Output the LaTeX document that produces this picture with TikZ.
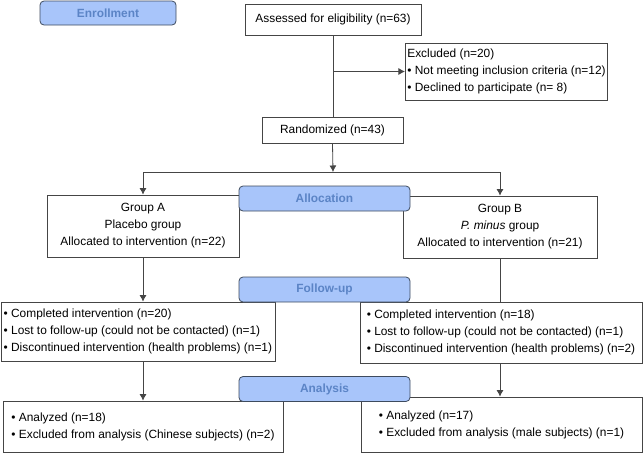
\documentclass[tikz,border=0pt]{standalone}
\usepackage{fontspec}
\setmainfont{Liberation Sans}
\usepackage{tikz}
\usetikzlibrary{arrows.meta}
\tikzset{>={Latex[length=6.5pt,width=7pt]}}
\definecolor{bannerfill}{HTML}{A8C5FA}
\definecolor{bannertext}{HTML}{5B84C6}
\definecolor{bannerline}{HTML}{3E4B5E}
\definecolor{flowline}{HTML}{454545}
\tikzset{
  box/.style={draw=flowline, line width=0.8pt, inner sep=2pt, font=\fontsize{11.9}{17}\selectfont},
  banner/.style={draw=bannerline, fill=bannerfill, rounded corners=4pt, line width=0.8pt, text=bannertext,
    font=\fontsize{11.9}{14}\selectfont\bfseries, minimum width=171pt, minimum height=25pt},
  flow/.style={flowline, line width=0.8pt}
}

\begin{document}
\begin{tikzpicture}[x=1pt, y=-1pt]
  \useasboundingbox (0,0) rectangle (643,453);

  \node[banner, minimum width=136pt, minimum height=24pt] (enroll) at (108,13) {Enrollment};
  \node[box, minimum width=176pt, minimum height=31pt] (assess) at (333,19.5) {Assessed for eligibility (n=63)};
  \node[box, minimum width=201pt, minimum height=57pt, align=left] (excl) at (506.5,71.5)
    {Excluded (n=20)\\ \textbullet\ Not meeting inclusion criteria (n=12)\\ \textbullet\ Declined to participate (n=\ 8)};
  \node[box, minimum width=141pt, minimum height=26pt] (rand) at (332.5,130) {Randomized (n=43)};

  \node[box, minimum width=192pt, minimum height=62pt, align=center] (ga) at (143,226)
    {Group A\\ Placebo group\\ Allocated to intervention (n=22)};
  \node[box, minimum width=194pt, minimum height=62pt, align=center] (gb) at (500,227)
    {Group B\\ \textit{P. minus} group\\ Allocated to intervention (n=21)};
  \node[banner] (alloc) at (324.5,198.5) {Allocation};

  \node[box, minimum width=274pt, minimum height=59pt, align=left] (fa) at (137.9,331.5)
    {\textbullet\ Completed intervention (n=20)\\ \textbullet\ Lost to follow-up (could not be contacted) (n=1)\\ \textbullet\ Discontinued intervention (health problems) (n=1)};
  \node[box, minimum width=282pt, minimum height=61pt, align=left] (fb) at (501,332.5)
    {\textbullet\ Completed intervention (n=18)\\ \textbullet\ Lost to follow-up (could not be contacted) (n=1)\\ \textbullet\ Discontinued intervention (health problems) (n=2)};
  \node[banner] (follow) at (324.5,289.5) {Follow-up};

  \node[box, minimum width=280pt, minimum height=51pt, align=left] (aa) at (143,426.5)
    {\textbullet\ Analyzed (n=18)\\ \textbullet\ Excluded from analysis (Chinese subjects) (n=2)};
  \node[box, minimum width=281pt, minimum height=55pt, align=left] (ab) at (501.5,424.5)
    {\textbullet\ Analyzed (n=17)\\ \textbullet\ Excluded from analysis (male subjects) (n=1)};
  \node[banner] (analysis) at (324.5,389) {Analysis};

  \coordinate (exsplit) at (assess.south |- excl.west);
  \coordinate (gsplit) at (333,172);
  \draw[flow] (assess.south) -- (assess.south |- rand.north);
  \draw[flow, ->] (exsplit) -- (excl.west);
  \draw[flow, ->] (rand.south) -- (gsplit);
  \draw[flow, ->] (gsplit) -| (ga.north);
  \draw[flow, ->] (gsplit) -| (gb.north);
  \draw[flow, ->] (ga.south) -- (ga.south |- fa.north);
  \draw[flow] (gb.south) -- (gb.south |- fb.north);
  \draw[flow, ->] (ga.south |- fa.south) -- (ga.south |- aa.north);
  \draw[flow, ->] (gb.south |- fb.south) -- (gb.south |- ab.north);
\end{tikzpicture}
\end{document}
